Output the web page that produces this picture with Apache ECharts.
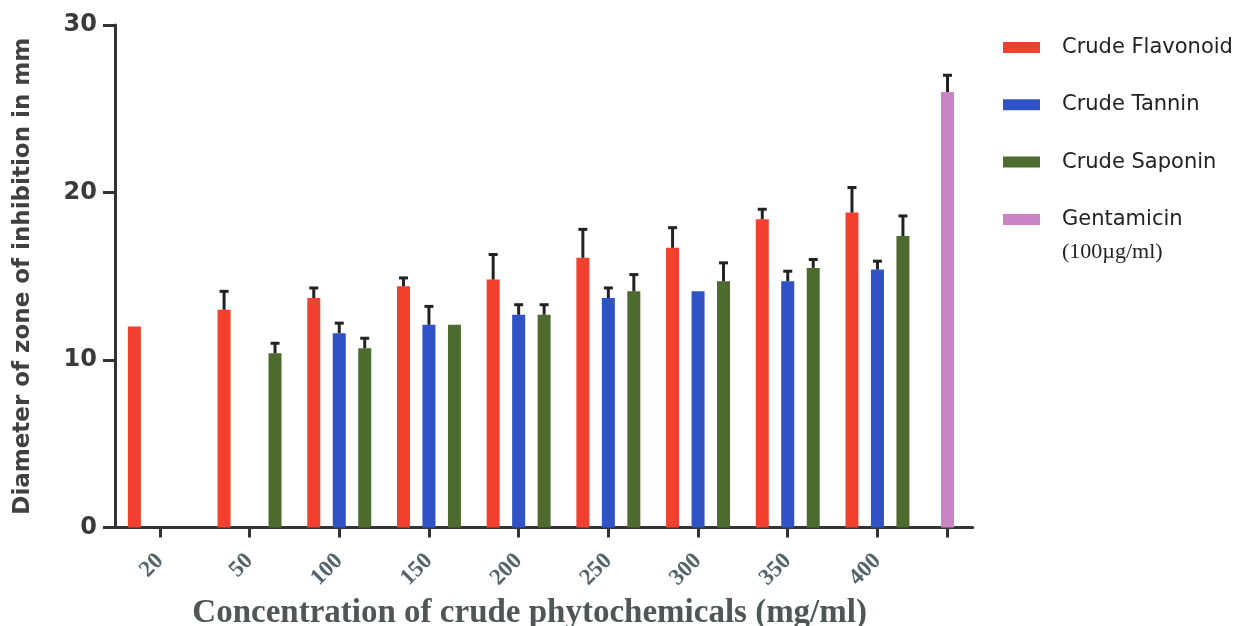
<!DOCTYPE html>
<html>
<head>
<meta charset="utf-8">
<script src="https://cdn.jsdelivr.net/npm/echarts@6/dist/echarts.min.js"></script>
<style>
  html, body { margin: 0; padding: 0; background: #fff; }
  #chart { width: 1245px; height: 626px; }
</style>
</head>
<body>
<div id="chart"></div>
<script>
// Zone of inhibition (mm) by concentration of crude phytochemicals (mg/ml)
const concentrations = ['20', '50', '100', '150', '200', '250', '300', '350', '400'];

const flavonoid    = [12.0, 13.0, 13.7, 14.4, 14.8, 16.1, 16.7, 18.4, 18.8];
const flavonoidErr = [0,    1.1,  0.6,  0.5,  1.5,  1.7,  1.2,  0.6,  1.5];

const tannin    = [null, null, 11.6, 12.1, 12.7, 13.7, 14.1, 14.7, 15.4];
const tanninErr = [0,    0,    0.6,  1.1,  0.6,  0.6,  0,    0.6,  0.5];

const saponin    = [null, 10.4, 10.7, 12.1, 12.7, 14.1, 14.7, 15.5, 17.4];
const saponinErr = [0,    0.6,  0.6,  0,    0.6,  1.0,  1.1,  0.5,  1.2];

const gentamicin    = [26.0];
const gentamicinErr = [1.0];

const yTicks = { min: 0, max: 30, interval: 10 };

const seriesNames = ['Crude Flavonoid', 'Crude Tannin', 'Crude Saponin', 'Gentamicin'];
const colors = ['#f2402f', '#2f52c6', '#4d6a2f', '#c884c4'];

const BAR_W = 13;
const BAR_GAP = 0.96;
const BAR_STEP = BAR_W * (1 + BAR_GAP);
const AXIS_COLOR = '#333';

// Upward-only error bars, placed on the bar slot inside each category
function errorBars(values, errors, slot, axisIndex) {
  return {
    type: 'custom',
    xAxisIndex: axisIndex,
    yAxisIndex: axisIndex,
    silent: true,
    z: 4,
    data: values.map((v, i) => [i, v == null ? NaN : v, errors[i]]),
    encode: { x: 0, y: 1 },
    renderItem: function (params, api) {
      const v = api.value(1);
      const e = api.value(2);
      if (isNaN(v) || !(e > 0)) return null;
      const base = api.coord([api.value(0), v]);
      const top = api.coord([api.value(0), v + e]);
      const x = base[0] + slot * BAR_STEP;
      const style = { stroke: '#222', lineWidth: 3 };
      return {
        type: 'group',
        children: [
          { type: 'line', shape: { x1: x, y1: base[1], x2: x, y2: top[1] }, style: style },
          { type: 'line', shape: { x1: x - 4.5, y1: top[1], x2: x + 4.5, y2: top[1] }, style: style }
        ]
      };
    }
  };
}

function bar(name, data, color, axisIndex) {
  return {
    type: 'bar',
    name: name,
    xAxisIndex: axisIndex,
    yAxisIndex: axisIndex,
    data: data,
    barWidth: BAR_W,
    barGap: (BAR_GAP * 100) + '%',
    itemStyle: { color: color },
    z: 3
  };
}

const axisLine = { show: true, lineStyle: { color: AXIS_COLOR, width: 3 } };
const xTick = { show: true, alignWithLabel: true, length: 10, lineStyle: { color: AXIS_COLOR, width: 3 } };
const yTick = { show: true, length: 12, lineStyle: { color: AXIS_COLOR, width: 3 } };

const option = {
  animation: false,
  backgroundColor: '#fff',
  grid: [
    { left: 115, top: 25, width: 807.3, bottom: 98.5, containLabel: false, outerBoundsMode: 'none' },
    { left: 922.3, top: 25, width: 50.4, bottom: 98.5, containLabel: false, outerBoundsMode: 'none' }
  ],
  xAxis: [
    {
      type: 'category',
      gridIndex: 0,
      data: concentrations,
      axisLine: axisLine,
      axisTick: xTick,
      axisLabel: {
        rotate: 45,
        margin: 30,
        fontFamily: 'Liberation Serif',
        fontWeight: 'bold',
        fontSize: 23,
        color: '#56636a'
      },
      name: 'Concentration of crude phytochemicals (mg/ml)',
      nameLocation: 'middle',
      nameGap: 66,
      nameTextStyle: {
        fontFamily: 'Liberation Serif',
        fontWeight: 'bold',
        fontSize: 33,
        color: '#505656',
        padding: [0, 0, 0, 22]
      }
    },
    {
      type: 'category',
      gridIndex: 1,
      data: [''],
      axisLine: axisLine,
      axisTick: xTick,
      axisLabel: { show: false }
    }
  ],
  yAxis: [
    {
      type: 'value',
      gridIndex: 0,
      min: yTicks.min,
      max: yTicks.max,
      interval: yTicks.interval,
      axisLine: axisLine,
      axisTick: yTick,
      splitLine: { show: false },
      axisLabel: {
        margin: 18,
        fontFamily: 'DejaVu Sans',
        fontWeight: 'bold',
        fontSize: 24,
        color: '#3a3a3a'
      },
      name: 'Diameter of zone of inhibition in mm',
      nameLocation: 'middle',
      nameRotate: 90,
      nameGap: 80,
      nameTextStyle: {
        fontFamily: 'DejaVu Sans',
        fontWeight: 'bold',
        fontSize: 23,
        color: '#404040'
      }
    },
    {
      type: 'value',
      gridIndex: 1,
      min: yTicks.min,
      max: yTicks.max,
      interval: yTicks.interval,
      show: false
    }
  ],
  legend: {
    orient: 'vertical',
    left: 1003,
    top: 35.5,
    padding: 0,
    itemWidth: 37,
    itemHeight: 11,
    itemGap: 33.3,
    icon: 'rect',
    data: seriesNames,
    textStyle: {
      fontFamily: 'DejaVu Sans',
      fontSize: 21,
      color: '#222',
      lineHeight: 24,
      padding: [0, 0, 0, 17]
    }
  },
  graphic: [
    {
      type: 'text',
      left: 1062,
      top: 241,
      style: { text: '(100µg/ml)', font: '22px "Liberation Serif"', fill: '#222' }
    }
  ],
  series: [
    bar(seriesNames[0], flavonoid, colors[0], 0),
    bar(seriesNames[1], tannin, colors[1], 0),
    bar(seriesNames[2], saponin, colors[2], 0),
    bar(seriesNames[3], gentamicin, colors[3], 1),
    errorBars(flavonoid, flavonoidErr, -1, 0),
    errorBars(tannin, tanninErr, 0, 0),
    errorBars(saponin, saponinErr, 1, 0),
    errorBars(gentamicin, gentamicinErr, 0, 1)
  ]
};

const chart = echarts.init(document.getElementById('chart'), null, { renderer: 'canvas' });
chart.setOption(option);
</script>
</body>
</html>
